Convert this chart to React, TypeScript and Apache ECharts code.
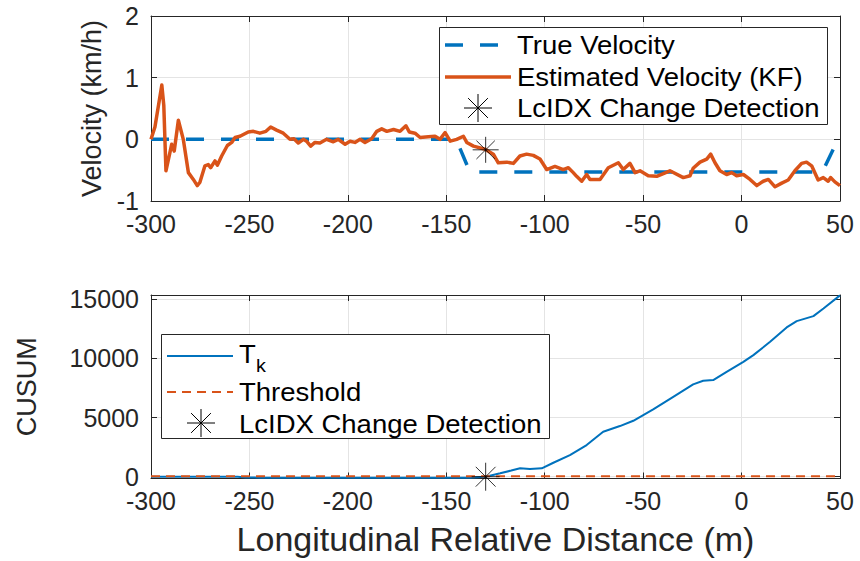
import React, { useEffect, useRef } from 'react';
import * as echarts from 'echarts';

// ---------- data ----------
const xTicks = [-300, -250, -200, -150, -100, -50, 0, 50];
const velTicks = [-1, 0, 1, 2];
const cusumTicks = [0, 5000, 10000, 15000];

const trueVelX = [-300, -145, -138, 41, 49, 50];
const trueVelV = [0, 0, -0.53, -0.53, 0, 0];

const estVelX = [
  -300, -298, -294.5, -293.5, -292.4, -289.5, -288.2, -286.1, -283.6, -281, -278.5, -276.5, -275.2,
  -272.6, -270.9, -269.7, -267.5, -266.3, -264.1, -261.2, -259, -257.3, -254.8, -250.6, -248, -244.7,
  -241.6, -239.2, -236.2, -232.8, -229.4, -227.4, -225.2, -222.6, -221, -218.9, -216.7, -214.2, -210.8,
  -207.4, -204.9, -201.4, -198.9, -196.4, -193.8, -191.3, -187.9, -185.3, -182.8, -180.2, -176.8,
  -173.5, -170.5, -168.8, -165.9, -163.3, -159.1, -155.7, -153.2, -150.6, -148, -144.7, -141.3, -139.6,
  -136.2, -130.3, -126.1, -123.6, -119.3, -115.9, -112.6, -109.2, -105.8, -102.4, -99, -94.8, -90.6,
  -88, -85.5, -83.8, -81.2, -78.7, -77, -71.9, -67.7, -62.6, -60.1, -56.7, -54.1, -51.6, -47.4, -43.1,
  -36.4, -29.6, -26.2, -24.6, -21.1, -17.7, -15.7, -13.5, -11, -7.6, -5, -2.5, 0.9, 4.3, 7.7, 11, 13.6,
  17, 20.4, 23.7, 27.1, 30.5, 33, 35.6, 38.9, 41.5, 44, 45.2, 47.4, 50,
];
const estVelV = [
  0, 0.2, 0.88, 0.55, -0.51, -0.08, -0.19, 0.31, 0, -0.54, -0.65, -0.75, -0.7,
  -0.43, -0.41, -0.46, -0.35, -0.42, -0.27, -0.1, -0.05, 0.03, 0.05, 0.12, 0.13, 0.1,
  0.13, 0.2, 0.15, 0.1, 0, 0.01, -0.06, 0, -0.03, -0.11, -0.05, -0.06, 0,
  -0.04, 0, -0.08, -0.03, -0.05, 0, -0.05, 0.01, 0.13, 0.17, 0.13, 0.16,
  0.13, 0.22, 0.12, 0.1, 0.03, 0.04, 0.05, 0, 0.11, -0.03, 0, 0.05, -0.05,
  -0.11, -0.16, -0.24, -0.38, -0.37, -0.39, -0.27, -0.24, -0.26, -0.32, -0.49, -0.44, -0.49,
  -0.46, -0.54, -0.6, -0.68, -0.57, -0.65, -0.65, -0.46, -0.38, -0.49, -0.39, -0.54, -0.51, -0.59, -0.6,
  -0.51, -0.62, -0.59, -0.47, -0.37, -0.32, -0.24, -0.38, -0.51, -0.57, -0.54, -0.59, -0.57, -0.65, -0.75, -0.68, -0.65,
  -0.77, -0.71, -0.66, -0.51, -0.39, -0.37, -0.43, -0.66, -0.62, -0.68, -0.62, -0.69, -0.75,
];

const cusumX = [
  -300, -256, -252, -245, -230, -210, -190, -170, -150, -138, -134, -130, -122.6, -117, -112.5, -107.5,
  -101.5, -95.6, -87.2, -78.7, -70.3, -61.8, -55, -44.9, -34.7, -24.6, -19.5, -14.4, -7.6, 0.9, 6, 14.5,
  22.9, 28, 36.5, 41.6, 50,
];
const cusumT = [
  0, 0, -60, -80, -90, -85, -80, -90, -85, -80, -40, 0, 287, 520, 709, 650,
  709, 1182, 1833, 2677, 3800, 4282, 4730, 5692, 6757, 7804, 8108, 8167, 8868, 9713, 10279, 11402,
  12618, 13150, 13573, 14223, 15330,
];

const thresholdX = [-300, 50];
const thresholdV = [50, 50];

const detectionX = [-130];
const detectionVel = [-0.17];
const detectionCusum = [0];

// ---------- styles ----------
const FONT = "'Liberation Sans', Arial, Helvetica, sans-serif";
const AX = '#262626';
const GRID = '#e4e4e4';
const BLUE = '#0072BD';
const ORANGE = '#D95319';
const STAR = 'path://M0,-10L0,10M-10,0L10,0M-7.07,-7.07L7.07,7.07M-7.07,7.07L7.07,-7.07';
const TICK_FS = 25;

const zip = (xs: number[], ys: number[]) => xs.map((x, i) => [x, ys[i]]);
const plain = (v: number) => String(v);

function mainX(gridIndex: number, name?: string) {
  return {
    type: 'value', gridIndex, position: 'bottom', min: xTicks[0], max: xTicks[xTicks.length - 1], interval: 50,
    name, nameLocation: 'middle', nameGap: 43,
    nameTextStyle: { fontFamily: FONT, fontSize: 34, color: AX },
    axisLine: { show: true, onZero: false, lineStyle: { color: AX, width: 1 } },
    axisTick: { show: true, inside: true, length: 6, lineStyle: { color: AX } },
    axisLabel: { fontFamily: FONT, fontSize: TICK_FS, color: AX, margin: 10, formatter: plain },
    splitLine: { show: true, lineStyle: { color: GRID, width: 1 } },
  };
}
function mirrorX(gridIndex: number) {
  return {
    type: 'value', gridIndex, position: 'top', min: xTicks[0], max: xTicks[xTicks.length - 1], interval: 50,
    axisLine: { show: true, onZero: false, lineStyle: { color: AX, width: 1 } },
    axisTick: { show: true, inside: true, length: 6, lineStyle: { color: AX } },
    axisLabel: { show: false },
    splitLine: { show: false },
  };
}

export default function App() {
  const ref = useRef<HTMLDivElement>(null);
  useEffect(() => {
    const chart = echarts.init(ref.current!, null, { renderer: 'svg', width: 860, height: 561 });

    const legendText = (x: number, y: number, text: string) => ({
      type: 'text', x, y, scaleX: 1.1, z: 20,
      style: { text, x: 0, y: 0, fontFamily: FONT, fontSize: 25, fill: '#000', verticalAlign: 'middle', align: 'left' },
    });
    const starLines = (cx: number, cy: number, r: number) => {
      const d = r * 0.7071;
      return [
        [cx, cy - r, cx, cy + r], [cx - r, cy, cx + r, cy],
        [cx - d, cy - d, cx + d, cy + d], [cx - d, cy + d, cx + d, cy - d],
      ].map((s) => ({
        type: 'line', z: 20,
        shape: { x1: s[0], y1: s[1], x2: s[2], y2: s[3] },
        style: { stroke: '#000', lineWidth: 1 },
      }));
    };

    const option: any = {
      animation: false,
      backgroundColor: '#fff',
      grid: [
        { left: 151, top: 16, width: 689, height: 185 },
        { left: 151, top: 295, width: 689, height: 183.5 },
      ],
      xAxis: [mainX(0), mirrorX(0), mainX(1, 'Longitudinal Relative Distance (m)'), mirrorX(1)],
      yAxis: [
        {
          type: 'value', gridIndex: 0, position: 'left', min: velTicks[0], max: velTicks[velTicks.length - 1], interval: 1,
          name: 'Velocity (km/h)', nameLocation: 'middle', nameGap: 46,
          nameTextStyle: { fontFamily: FONT, fontSize: 27, color: AX },
          axisLine: { show: true, onZero: false, lineStyle: { color: AX } },
          axisTick: { show: true, inside: true, length: 6, lineStyle: { color: AX } },
          axisLabel: { fontFamily: FONT, fontSize: TICK_FS, color: AX, margin: 12, lineHeight: 20, formatter: plain },
          splitLine: { show: true, lineStyle: { color: GRID } },
        },
        {
          type: 'value', gridIndex: 0, position: 'right', min: velTicks[0], max: velTicks[velTicks.length - 1], interval: 1,
          axisLine: { show: true, onZero: false, lineStyle: { color: AX } },
          axisTick: { show: true, inside: true, length: 6, lineStyle: { color: AX } },
          axisLabel: { show: false }, splitLine: { show: false },
        },
        {
          type: 'value', gridIndex: 1, position: 'left', min: -150, max: 15360,
          name: 'CUSUM', nameLocation: 'middle', nameGap: 111,
          nameTextStyle: { fontFamily: FONT, fontSize: 27, color: AX },
          axisLine: { show: true, onZero: false, lineStyle: { color: AX } },
          axisTick: { show: true, inside: true, length: 6, lineStyle: { color: AX }, customValues: cusumTicks },
          axisLabel: { fontFamily: FONT, fontSize: TICK_FS, color: AX, margin: 12, lineHeight: 20, customValues: cusumTicks, formatter: plain },
          splitLine: { show: true, lineStyle: { color: GRID } },
        },
        {
          type: 'value', gridIndex: 1, position: 'right', min: -150, max: 15360,
          axisLine: { show: true, onZero: false, lineStyle: { color: AX } },
          axisTick: { show: true, inside: true, length: 6, lineStyle: { color: AX }, customValues: cusumTicks },
          axisLabel: { show: false }, splitLine: { show: false },
        },
      ],
      series: [
        {
          name: 'True Velocity', type: 'line', xAxisIndex: 0, yAxisIndex: 0,
          data: zip(trueVelX, trueVelV), showSymbol: false, symbol: 'none', z: 3,
          lineStyle: { color: BLUE, width: 3.5, type: [18, 17] },
        },
        {
          name: 'Estimated Velocity (KF)', type: 'line', xAxisIndex: 0, yAxisIndex: 0,
          data: zip(estVelX, estVelV), showSymbol: false, symbol: 'none', z: 4,
          lineStyle: { color: ORANGE, width: 3.5, join: 'round' },
        },
        {
          name: 'LcIDX Change Detection', type: 'scatter', xAxisIndex: 0, yAxisIndex: 0,
          data: zip(detectionX, detectionVel), symbol: STAR, symbolSize: 26, z: 5,
          itemStyle: { color: 'rgba(0,0,0,0)', borderColor: '#000', borderWidth: 1 },
        },
        {
          name: 'T_k', type: 'line', xAxisIndex: 2, yAxisIndex: 2,
          data: zip(cusumX, cusumT), showSymbol: false, symbol: 'none', z: 3,
          lineStyle: { color: BLUE, width: 2 },
        },
        {
          name: 'Threshold', type: 'line', xAxisIndex: 2, yAxisIndex: 2,
          data: zip(thresholdX, thresholdV), showSymbol: false, symbol: 'none', z: 4,
          lineStyle: { color: ORANGE, width: 2, type: [9, 6] },
        },
        {
          name: 'LcIDX Change Detection (CUSUM)', type: 'scatter', xAxisIndex: 2, yAxisIndex: 2,
          data: zip(detectionX, detectionCusum), symbol: STAR, symbolSize: 28, z: 5,
          itemStyle: { color: 'rgba(0,0,0,0)', borderColor: '#000', borderWidth: 1 },
        },
      ],
      graphic: [
        // top legend
        { type: 'rect', z: 19, shape: { x: 439.5, y: 27.5, width: 388, height: 97 }, style: { fill: '#fff', stroke: '#262626', lineWidth: 1 } },
        { type: 'line', z: 20, shape: { x1: 445, y1: 45, x2: 511, y2: 45 }, style: { stroke: BLUE, lineWidth: 3.5, lineDash: [18, 17] } },
        { type: 'line', z: 20, shape: { x1: 445, y1: 77, x2: 511, y2: 77 }, style: { stroke: ORANGE, lineWidth: 3.5 } },
        ...starLines(478, 108, 14),
        legendText(517, 45, 'True Velocity'),
        legendText(517, 77, 'Estimated Velocity (KF)'),
        legendText(517, 108, 'LcIDX Change Detection'),
        // bottom legend
        { type: 'rect', z: 19, shape: { x: 161.5, y: 334.5, width: 388, height: 104 }, style: { fill: '#fff', stroke: '#262626', lineWidth: 1 } },
        { type: 'line', z: 20, shape: { x1: 167, y1: 356, x2: 233, y2: 356 }, style: { stroke: BLUE, lineWidth: 2 } },
        { type: 'line', z: 20, shape: { x1: 167, y1: 392, x2: 233, y2: 392 }, style: { stroke: ORANGE, lineWidth: 2, lineDash: [9, 6] } },
        ...starLines(201, 423, 14),
        legendText(239, 354, 'T'),
        {
          type: 'text', x: 256, y: 366, scaleX: 1.1, z: 20,
          style: { text: 'k', x: 0, y: 0, fontFamily: FONT, fontSize: 18, fill: '#000', verticalAlign: 'middle', align: 'left' },
        },
        legendText(239, 392, 'Threshold'),
        legendText(239, 424, 'LcIDX Change Detection'),
      ],
    };
    chart.setOption(option);
    return () => chart.dispose();
  }, []);
  return <div ref={ref} style={{ position: 'absolute', left: 0, top: 0, width: 860, height: 561 }} />;
}
